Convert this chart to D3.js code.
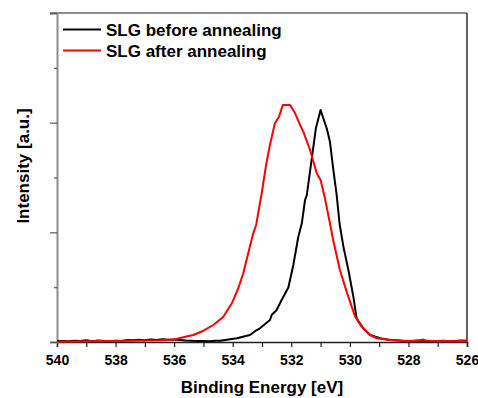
<!DOCTYPE html>
<html>
<head>
<meta charset="utf-8">
<script src="https://cdn.jsdelivr.net/npm/d3@7"></script>
<style>
  html, body { margin: 0; padding: 0; background: #fff; }
  svg { display: block; }
  text { font-family: "Liberation Sans", Arial, sans-serif; font-weight: bold; }
</style>
</head>
<body>
<svg id="chart" width="478" height="398"></svg>
<script>
// ---- data ----
const seriesNames = ["SLG before annealing", "SLG after annealing"];
const seriesColors = ["#000000", "#ff0000"];
const xTickValues = [540, 538, 536, 534, 532, 530, 528, 526];

const beforeEnergy = [540, 539.8, 539.6, 539.4, 539.2, 539.0, 538.8, 538.6, 538.4, 538.2, 538.0, 537.8, 537.6, 537.4, 537.2, 537.0, 536.8, 536.6, 536.4, 536.2, 536.0, 535.8, 535.6, 535.4, 535.2, 535.0, 534.8, 534.6, 534.43, 533.86, 533.41, 533.18, 533.07, 532.73, 532.67, 532.50, 532.33, 532.27, 532.10, 531.93, 531.76, 531.64, 531.53, 531.47, 531.30, 531.16, 531.00, 530.79, 530.68, 530.57, 530.45, 530.35, 530.22, 530.05, 529.88, 529.77, 529.54, 529.31, 528.97, 528.63, 528.4, 528.2, 528.0, 527.8, 527.6, 527.4, 527.2, 527.0, 526.8, 526.6, 526.4, 526.2, 526.0];
const beforeIntensity = [0.008, 0.010, 0.006, 0.012, 0.009, 0.015, 0.008, 0.014, 0.010, 0.007, 0.012, 0.010, 0.018, 0.015, 0.020, 0.016, 0.022, 0.018, 0.024, 0.020, 0.022, 0.018, 0.014, 0.012, 0.008, 0.010, 0.007, 0.012, 0.012, 0.034, 0.064, 0.109, 0.125, 0.200, 0.246, 0.292, 0.383, 0.413, 0.497, 0.702, 0.960, 1.082, 1.295, 1.340, 1.675, 1.949, 2.115, 1.949, 1.826, 1.584, 1.340, 1.076, 0.869, 0.657, 0.413, 0.216, 0.125, 0.064, 0.034, 0.018, 0.015, 0.012, 0.010, 0.012, 0.014, 0.010, 0.008, 0.010, 0.012, 0.008, 0.010, 0.014, 0.012];

const afterEnergy = [540, 539.5, 539.0, 538.5, 538.0, 537.5, 537.0, 536.5, 536.2, 536.0, 535.69, 535.35, 535.0, 534.66, 534.32, 534.03, 533.81, 533.64, 533.47, 533.30, 533.20, 533.01, 532.86, 532.73, 532.56, 532.42, 532.29, 532.04, 531.87, 531.70, 531.59, 531.36, 531.13, 531.00, 530.85, 530.68, 530.57, 530.34, 530.11, 529.82, 529.60, 529.31, 529.08, 528.63, 528.4, 528.2, 528.0, 527.8, 527.6, 527.5, 527.4, 527.2, 527.0, 526.8, 526.6, 526.4, 526.2, 526.0];
const afterIntensity = [0.003, 0.004, 0.006, 0.008, 0.010, 0.012, 0.014, 0.016, 0.020, 0.023, 0.043, 0.064, 0.103, 0.155, 0.231, 0.353, 0.490, 0.626, 0.809, 0.991, 1.067, 1.356, 1.614, 1.796, 1.994, 2.054, 2.161, 2.161, 2.085, 1.979, 1.918, 1.751, 1.538, 1.477, 1.310, 1.082, 0.930, 0.657, 0.459, 0.231, 0.140, 0.064, 0.034, 0.018, 0.014, 0.010, 0.008, 0.010, 0.016, 0.022, 0.014, 0.008, 0.010, 0.007, 0.010, 0.006, 0.008, 0.006];

// ---- layout ----
const svg = d3.select("#chart");
const L = 57, R = 467, T = 13, B = 342;

const x = d3.scaleLinear().domain([540, 526]).range([L, R]);
const y = d3.scaleLinear().domain([0, 3]).range([B, T]);

// axis frame: top and left gray, right and bottom black
svg.append("line").attr("x1", L - 7).attr("x2", R).attr("y1", T).attr("y2", T)
  .attr("stroke", "#8c8c8c").attr("stroke-width", 2);
svg.append("line").attr("x1", R).attr("x2", R).attr("y1", T).attr("y2", B)
  .attr("stroke", "#000").attr("stroke-width", 1.2);

// x axis
const xAxis = d3.axisBottom(x)
  .tickValues(d3.range(540, 525.5, -1))
  .tickSize(5)
  .tickFormat(d => xTickValues.includes(d) ? d3.format("d")(d) : "");
const gx = svg.append("g").attr("transform", `translate(0,${B})`).call(xAxis);
gx.select(".domain").attr("stroke", "#222").attr("stroke-width", 1.5);
gx.selectAll(".tick line").attr("stroke", "#222").attr("stroke-width", 1.2);
gx.selectAll(".tick text").attr("font-size", 14).attr("fill", "#000")
  .attr("font-family", "'Liberation Sans', Arial, sans-serif").attr("font-weight", "bold")
  .attr("dy", "1.05em");

// y axis (major + minor ticks, no labels)
const yMajor = d3.axisLeft(y).tickValues([0, 1, 2, 3]).tickSize(7).tickFormat("");
const gy = svg.append("g").attr("transform", `translate(${L},0)`).call(yMajor);
gy.select(".domain").attr("stroke", "#8c8c8c").attr("stroke-width", 2);
gy.selectAll(".tick line").attr("stroke", "#555").attr("stroke-width", 1.2);
const yMinor = d3.axisLeft(y).tickValues([0.5, 1.5, 2.5]).tickSize(3).tickFormat("");
const gy2 = svg.append("g").attr("transform", `translate(${L},0)`).call(yMinor);
gy2.select(".domain").remove();
gy2.selectAll(".tick line").attr("stroke", "#555").attr("stroke-width", 1.2);

// series lines
const line = d3.line().x(d => x(d[0])).y(d => y(d[1]));
const beforeData = beforeEnergy.map((e, i) => [e, beforeIntensity[i]]);
const afterData = afterEnergy.map((e, i) => [e, afterIntensity[i]]);

svg.append("path").datum(beforeData).attr("d", line)
  .attr("fill", "none").attr("stroke", seriesColors[0]).attr("stroke-width", 2)
  .attr("stroke-linejoin", "round");
svg.append("path").datum(afterData).attr("d", line)
  .attr("fill", "none").attr("stroke", seriesColors[1]).attr("stroke-width", 2)
  .attr("stroke-linejoin", "round");

// legend
seriesNames.forEach((name, i) => {
  const ly = 29.5 + i * 21;
  svg.append("line").attr("x1", 63).attr("x2", 101).attr("y1", ly).attr("y2", ly)
    .attr("stroke", seriesColors[i]).attr("stroke-width", 2);
  svg.append("text").attr("x", 106).attr("y", ly + 6)
    .attr("font-size", 17).attr("fill", "#000").text(name);
});

// axis titles
svg.append("text").attr("x", (L + R) / 2).attr("y", 392.5)
  .attr("text-anchor", "middle").attr("font-size", 17).attr("fill", "#000")
  .text("Binding Energy [eV]");
svg.append("text")
  .attr("transform", `translate(29,166) rotate(-90)`)
  .attr("text-anchor", "middle").attr("font-size", 17).attr("fill", "#000")
  .text("Intensity [a.u.]");
</script>
</body>
</html>
